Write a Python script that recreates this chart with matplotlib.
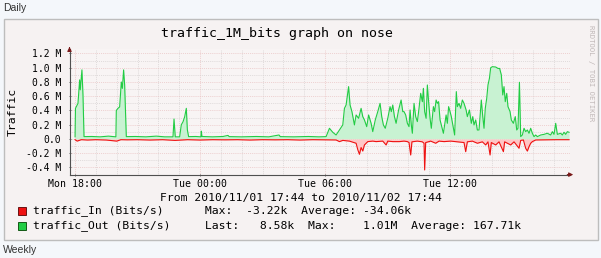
import numpy as np
import matplotlib
matplotlib.use("Agg")
from matplotlib import pyplot as plt
from matplotlib.patches import Rectangle

# time axis in hours since Mon 00:00, traffic in M bits/s
out_hours = [
    18.00, 18.02, 18.14, 18.22, 18.25, 18.33, 18.38, 18.43,
    18.8, 19.2, 19.6, 19.96,
    19.98, 20.06, 20.14, 20.22, 20.27, 20.33, 20.38, 20.46,
    20.9, 21.4, 21.9, 22.3, 22.70,
    22.75, 22.81, 23.02, 23.10, 23.18, 23.26, 23.34, 23.39, 23.45,
    23.8, 24.04, 24.06, 24.09, 24.6, 25.1, 25.34, 25.40,
    26.0, 26.7, 27.3, 27.79, 27.85, 28.5, 29.2, 29.7, 30.05,
    30.21, 30.37, 30.53, 30.69, 30.85, 30.93, 31.01, 31.13, 31.20, 31.29,
    31.41, 31.49, 31.61, 31.73, 31.81, 31.89, 32.00, 32.09, 32.21, 32.29,
    32.41, 32.53, 32.64, 32.72, 32.80, 32.89, 33.01, 33.12, 33.18, 33.25,
    33.33, 33.41, 33.53, 33.65, 33.73, 33.79, 33.87, 33.95, 34.03, 34.08,
    34.14, 34.19, 34.27, 34.35, 34.43, 34.51, 34.59, 34.67, 34.72, 34.78,
    34.85, 34.91, 34.97, 35.04, 35.10, 35.20, 35.26, 35.33, 35.39, 35.45,
    35.52, 35.58, 35.68, 35.74, 35.81, 35.87, 35.93, 36.00, 36.06, 36.16,
    36.22, 36.30, 36.35, 36.43, 36.51, 36.59, 36.67, 36.77, 36.83, 36.93,
    37.02, 37.09, 37.15, 37.23, 37.31, 37.39, 37.50, 37.57, 37.63, 37.69,
    37.76, 37.82, 37.89, 37.95, 38.03, 38.19, 38.30, 38.38, 38.46, 38.53,
    38.59, 38.65, 38.72, 38.78, 38.88, 38.94, 39.04, 39.13, 39.20, 39.26,
    39.33, 39.39, 39.47, 39.55, 39.63, 39.71, 39.79, 39.87, 39.95, 40.03,
    40.11, 40.19, 40.35, 40.51, 40.67, 40.83, 40.91, 40.99, 41.07, 41.15,
    41.31, 41.39, 41.47, 41.55, 41.63, 41.71,
]
out_values = [
    0.03, 0.43, 0.50, 0.83, 0.69, 0.97, 0.62, 0.033,
    0.035, 0.03, 0.04, 0.03,
    0.40, 0.43, 0.45, 0.80, 0.71, 0.97, 0.76, 0.033,
    0.035, 0.03, 0.04, 0.03, 0.03,
    0.28, 0.03, 0.03, 0.20, 0.24, 0.31, 0.43, 0.13, 0.033,
    0.035, 0.03, 0.11, 0.035, 0.03, 0.035, 0.05, 0.033,
    0.03, 0.035, 0.03, 0.056, 0.033, 0.03, 0.035, 0.03, 0.033,
    0.15, 0.094, 0.056, 0.126, 0.197, 0.43, 0.477, 0.735, 0.477, 0.384,
    0.197, 0.337, 0.29, 0.43, 0.314, 0.267, 0.173, 0.337, 0.22, 0.103,
    0.267, 0.384, 0.50, 0.314, 0.197, 0.15, 0.29, 0.454, 0.384, 0.477,
    0.314, 0.22, 0.407, 0.547, 0.384, 0.384, 0.337, 0.22, 0.173, 0.407,
    0.197, 0.08, 0.50, 0.314, 0.244, 0.43, 0.641, 0.524, 0.711, 0.384,
    0.29, 0.758, 0.524, 0.29, 0.15, 0.454, 0.384, 0.547, 0.50, 0.524,
    0.267, 0.197, 0.08, 0.197, 0.337, 0.22, 0.454, 0.384, 0.314, 0.15,
    0.056, 0.665, 0.454, 0.50, 0.43, 0.547, 0.50, 0.407, 0.314, 0.407,
    0.22, 0.314, 0.197, 0.267, 0.126, 0.126, 0.547, 0.314, 0.15, 0.43,
    0.571, 0.758, 0.852, 1.00, 1.015, 1.01, 0.99, 0.99, 0.90, 0.618,
    0.735, 0.524, 0.641, 0.454, 0.384, 0.267, 0.22, 0.314, 0.126, 0.15,
    0.796, 0.033, 0.056, 0.15, 0.103, 0.126, 0.08, 0.15, 0.08, 0.033,
    0.056, 0.033, 0.056, 0.065, 0.08, 0.056, 0.103, 0.065, 0.22, 0.065,
    0.08, 0.056, 0.094, 0.065, 0.103, 0.094,
]

in_hours = [
    18.00, 18.10, 18.30, 18.6, 19.0, 19.5, 20.0, 20.2, 20.5, 21.0,
    21.6, 22.2, 22.8, 23.4, 24.0, 24.6, 25.2, 25.8, 26.4, 27.0,
    27.6, 28.2, 28.8, 29.4, 30.0, 30.53, 30.69, 30.85, 31.17, 31.49,
    31.57, 31.65, 31.73, 31.81, 31.89, 32.05, 32.29, 32.45, 32.77, 32.93,
    33.01, 33.25, 33.57, 33.79, 33.95, 34.03, 34.11, 34.17, 34.43, 34.67,
    34.75, 34.78, 34.83, 35.07, 35.31, 35.47, 35.71, 36.03, 36.35, 36.67,
    36.75, 36.83, 37.07, 37.31, 37.55, 37.71, 37.82, 37.92, 37.98, 38.19,
    38.35, 38.56, 38.62, 38.91, 39.07, 39.31, 39.39, 39.52, 39.63, 39.71,
    39.79, 39.87, 39.95, 40.11, 40.6, 41.1, 41.71,
]
in_values = [
    -0.01, -0.03, -0.01, -0.015, -0.01, -0.015, -0.03, -0.01, -0.012, -0.01,
    -0.015, -0.01, -0.02, -0.01, -0.015, -0.01, -0.012, -0.01, -0.015, -0.01,
    -0.012, -0.01, -0.015, -0.01, -0.012, -0.014, -0.037, -0.02, -0.03, -0.06,
    -0.15, -0.215, -0.12, -0.17, -0.084, -0.037, -0.03, -0.037, -0.03, -0.084,
    -0.03, -0.037, -0.037, -0.03, -0.037, -0.05, -0.225, -0.04, -0.03, -0.04,
    -0.06, -0.435, -0.05, -0.03, -0.06, -0.03, -0.037, -0.03, -0.04, -0.05,
    -0.178, -0.04, -0.03, -0.06, -0.04, -0.084, -0.04, -0.225, -0.05, -0.084,
    -0.04, -0.178, -0.04, -0.084, -0.04, -0.13, -0.02, -0.014, -0.131, -0.17,
    -0.108, -0.06, -0.037, -0.014, -0.012, -0.01, -0.01,
]

x_tick_hours = [18, 24, 30, 36]
x_tick_labels = ["Mon 18:00", "Tue 00:00", "Tue 06:00", "Tue 12:00"]
y_tick_values = [-0.4, -0.2, 0.0, 0.2, 0.4, 0.6, 0.8, 1.0, 1.2]
y_tick_labels = ["-0.4 M", "-0.2 M", "0.0", "0.2 M", "0.4 M", "0.6 M", "0.8 M", "1.0 M", "1.2 M"]

title = "traffic_1M_bits graph on nose"
period = "From 2010/11/01 17:44 to 2010/11/02 17:44"
legend_in = "traffic_In (Bits/s)      Max:  -3.22k  Average: -34.06k"
legend_out = "traffic_Out (Bits/s)     Last:   8.58k  Max:    1.01M  Average: 167.71k"

plt.rcParams['font.family'] = 'DejaVu Sans Mono'

W, H = 601, 258
fig = plt.figure(figsize=(W / 100, H / 100), dpi=100)
fig.patch.set_facecolor("#f4f7fb")

def fx(px):
    return px / W

def fy(py):
    return 1 - py / H

# graph image background
fig.patches.append(Rectangle((fx(3.5), fy(240)), fx(594), 221 / H, transform=fig.transFigure,
                             facecolor="#f6f2f2", edgecolor="#bdbdbd", lw=1.0, zorder=-1))

fig.text(fx(3), fy(8), "Daily", family="Liberation Sans", fontsize=7.5, color="#333333", va="center")
fig.text(fx(3), fy(250), "Weekly", family="Liberation Sans", fontsize=7.5, color="#333333", va="center")

x0, x1 = 17.733, 41.733
ylo, yhi = -0.5, 1.27
ax = fig.add_axes([fx(69.5), fy(174.6), 500 / W, 126.1 / H])
ax.set_zorder(2)
ax.set_facecolor("#f8f4f4")
ax.set_xlim(x0, x1)
ax.set_ylim(ylo, yhi)

# grid: hourly / 0.1 M minor, 6 h / 0.2 M major
for h in np.arange(18, 42):
    major = (h % 6 == 0)
    ax.axvline(h, color="#e8bcbc" if major else "#d2cdcd", lw=0.55, ls=(0, (1, 1.5)), zorder=1)
for v in np.arange(-4, 13) / 10:
    major = abs(round(v * 10)) % 2 == 0
    ax.axhline(v, color="#e8bcbc" if major else "#d2cdcd", lw=0.55, ls=(0, (1, 1.5)), zorder=1)

ax.fill_between(out_hours, 0, out_values, color="#c8f2d2", lw=0, zorder=2)
ax.fill_between(in_hours, 0, in_values, color="#ffc6c6", lw=0, zorder=2)
ax.plot(out_hours, out_values, color="#22cc44", lw=0.8, zorder=3)
ax.plot(in_hours, in_values, color="#ee1111", lw=0.8, zorder=3)

for s in ["top", "right"]:
    ax.spines[s].set_visible(False)
for s in ["left", "bottom"]:
    ax.spines[s].set_color("#505050")
    ax.spines[s].set_linewidth(0.8)

ax.set_xticks(x_tick_hours)
ax.set_xticklabels(x_tick_labels, fontsize=7.1)
ax.set_yticks(y_tick_values)
ax.set_yticklabels(y_tick_labels, fontsize=7.0)
ax.tick_params(axis="both", length=2, width=0.6, color="#505050", direction="inout")
ax.tick_params(axis="y", pad=5)
ax.tick_params(axis="x", pad=2.5)

ax.set_ylabel("Traffic", fontsize=8.2)
ax.yaxis.set_label_coords(-(69.5 - 17.5) / 500, 0.5)

# axis arrows
ax.annotate("", xy=(0, 1.035), xytext=(0, 0.98), xycoords="axes fraction",
            arrowprops=dict(arrowstyle="-|>", color="#7a1a1a", lw=0.8, mutation_scale=6))
ax.annotate("", xy=(1.013, 0), xytext=(0.99, 0), xycoords="axes fraction",
            arrowprops=dict(arrowstyle="-|>", color="#7a1a1a", lw=0.8, mutation_scale=6))

fig.text(fx(277), fy(33), title, fontsize=9.5, ha="center", va="center")
fig.text(fx(301), fy(198), period, fontsize=8.2, ha="center", va="center")

fig.patches.append(Rectangle((fx(17.5), fy(214.5)), 8 / W, 8 / H, transform=fig.transFigure,
                             facecolor="#ee1111", edgecolor="#550000", lw=0.6))
fig.patches.append(Rectangle((fx(17.5), fy(229.5)), 8 / W, 8 / H, transform=fig.transFigure,
                             facecolor="#22cc44", edgecolor="#004400", lw=0.6))
fig.text(fx(33), fy(211), legend_in, fontsize=8.2, ha="left", va="center")
fig.text(fx(33), fy(226), legend_out, fontsize=8.2, ha="left", va="center")

fig.text(fx(591), fy(25), "RRDTOOL / TOBI OETIKER", fontsize=5.2, rotation=-90,
         color="#c0b8b8", ha="center", va="top")

plt.savefig("out.png", dpi=100, facecolor=fig.get_facecolor())
